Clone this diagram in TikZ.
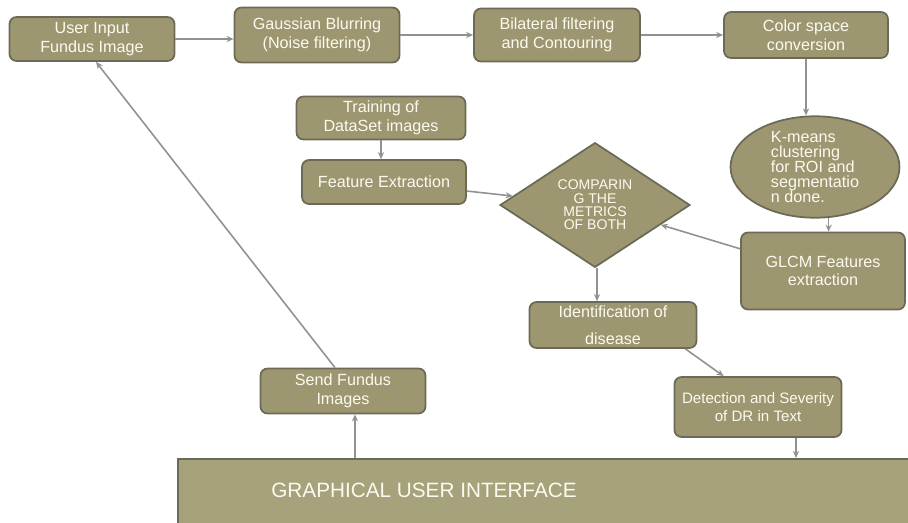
\documentclass[tikz,border=0pt]{standalone}
\usepackage{fontspec}
\setmainfont{Liberation Sans}
\usetikzlibrary{shapes.geometric,arrows.meta}

\definecolor{boxfill}{RGB}{156,151,113}
\definecolor{guifill}{RGB}{166,162,124}
\definecolor{boxline}{RGB}{108,106,86}
\definecolor{boxtext}{RGB}{252,250,238}
\definecolor{flowline}{RGB}{145,145,145}

\tikzset{
  stepbox/.style={draw=boxline, fill=boxfill, text=boxtext, rounded corners=4pt,
    line width=1pt, align=center, inner sep=1pt, font=\fontsize{9.2}{10.5}\selectfont},
  decision/.style={diamond, draw=boxline, fill=boxfill, text=boxtext, line width=1pt,
    align=center, inner sep=0pt, minimum width=3.8cm, minimum height=2.4cm,
    font=\fontsize{8}{7.6}\selectfont},
  cluster/.style={ellipse, draw=boxline, fill=boxfill, text=boxtext, line width=1pt,
    align=left, inner sep=0pt, minimum width=3.38cm, minimum height=1.78cm,
    font=\fontsize{9.2}{8.6}\selectfont},
  guibox/.style={draw=boxline, fill=guifill, line width=1pt},
  guitext/.style={text=boxtext, font=\fontsize{11.8}{13}\selectfont},
  flow/.style={draw=flowline, line width=0.9pt, -{Stealth[length=4pt,width=3.5pt]}},
}

\begin{document}
\begin{tikzpicture}[x=0.02cm,y=-0.02cm]
    \useasboundingbox (0,0) rectangle (908,522);
    % Top row
    \node[stepbox, minimum width=3.3cm, minimum height=0.88cm] (input) at (92,39) {User Input\\Fundus Image};
    \node[stepbox, minimum width=3.3cm, minimum height=1.1cm] (blur) at (317,35) {Gaussian Blurring\\(Noise filtering)};
    \node[stepbox, minimum width=3.32cm, minimum height=1.06cm] (bilat) at (557,35) {Bilateral filtering\\and Contouring};
    \node[stepbox, minimum width=3.28cm, minimum height=0.92cm] (color) at (806,35) {Color space\\conversion};
    % Training branch
    \node[stepbox, minimum width=3.38cm, minimum height=0.86cm] (train) at (381,118) {Training of\\DataSet images};
    \node[stepbox, minimum width=3.28cm, minimum height=0.88cm] (feat) at (384,182) {Feature Extraction};
    \node[decision] (compare) at (595,205) {COMPARIN\\G THE\\METRICS\\OF BOTH};
    % Segmentation branch
    \node[cluster] (kmeans) at (815,167) {K-means\\clustering\\for ROI and\\segmentatio\\n done.};
    \node[stepbox, minimum width=3.28cm, minimum height=1.54cm] (glcm) at (823,271) {GLCM Features\\extraction};
    % Result
    \node[stepbox, minimum width=3.34cm, minimum height=0.92cm] (ident) at (613,325) {Identification of\\[5pt]disease};
    \node[stepbox, minimum width=3.34cm, minimum height=1.2cm, font=\fontsize{8.6}{10.5}\selectfont] (detect) at (758,407) {Detection and Severity\\of DR in Text};
    \node[stepbox, minimum width=3.3cm, minimum height=0.9cm] (send) at (343,391) {Send Fundus\\Images};
    % GUI
    \node[guibox, anchor=north west, minimum width=14.9cm, minimum height=1.5cm] (gui) at (177,458) {};
    \node[guitext] (guilabel) at (424,490) {GRAPHICAL USER INTERFACE};
    % Connectors
    \draw[flow] (input) -- (input -| blur.west);
    \draw[flow] (blur) -- (bilat);
    \draw[flow] (bilat) -- (color);
    \draw[flow] (color.south) -- (kmeans.north -| color.south);
    \draw[flow] (kmeans.-75) -- (glcm.north -| kmeans.-75);
    \draw[flow] (glcm.165) -- (compare);
    \draw[flow] (train.south) -- (train.south |- feat.north);
    \draw[flow] (feat) -- (compare);
    \draw[flow] ([xshift=0.04cm]compare.south) -- ([xshift=0.04cm]compare.south |- ident.north);
    \draw[flow] ([xshift=-0.24cm]ident.south east) -- ([xshift=1cm]detect.north west);
    \draw[flow] ([xshift=0.76cm]detect.south) -- ([xshift=0.76cm]detect.south |- gui.north);
    \draw[flow] ([xshift=0.24cm]send.south |- gui.north) -- ([xshift=0.24cm]send.south);
    \draw[flow] ([xshift=-0.16cm]send.north) -- ([xshift=0.08cm]input.south);
\end{tikzpicture}
\end{document}
